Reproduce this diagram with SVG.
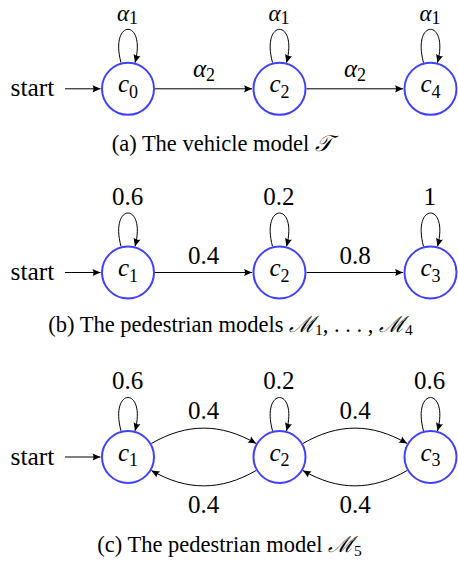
<svg xmlns="http://www.w3.org/2000/svg" width="458" height="563" viewBox="0 0 458 563">
<style>
  .node circle { fill: #ffffff; stroke: #4040ff; stroke-width: 2; }
  .edge { fill: none; stroke: #000000; stroke-width: 1; }
  .lbl { font-family: "Liberation Serif", serif; font-size: 25px; text-anchor: middle; fill: #000000; }
  .top { font-size: 23px; }
  .it { font-family: "Liberation Serif", serif; font-style: italic; }
  .sub { font-family: "Liberation Serif", serif; font-size: 18px; font-style: normal; }
  .start { font-family: "Liberation Serif", serif; font-size: 25.5px; fill: #000000; }
  .cap { font-family: "Liberation Serif", serif; font-size: 22.5px; fill: #000000; }
  .capsub { font-family: "Liberation Serif", serif; font-size: 15.5px; }
  .cal { font-style: italic; }
</style>
<defs>
  <marker id="arr" markerUnits="userSpaceOnUse" markerWidth="12" markerHeight="12" viewBox="-10 -6 12 12" refX="0" refY="0" orient="auto">
    <path d="M0,0 L-8,-3.6 Q-6,0 -8,3.6 Z" fill="#000000"/>
  </marker>
</defs>

<!-- Connectors -->
<g id="connectors">
  <!-- (a) -->
  <path class="edge" marker-end="url(#arr)" d="M65,88.8 L100.5,88.8"/>
  <path class="edge" marker-end="url(#arr)" d="M121.01,62.72 C109.08,18.19 146.92,18.19 134.99,62.72"/>
  <path class="edge" marker-end="url(#arr)" d="M272.51,62.72 C260.58,18.19 298.42,18.19 286.49,62.72"/>
  <path class="edge" marker-end="url(#arr)" d="M423.51,62.72 C411.58,18.19 449.42,18.19 437.49,62.72"/>
  <path class="edge" marker-end="url(#arr)" d="M155,88.8 L252,88.8"/>
  <path class="edge" marker-end="url(#arr)" d="M306.5,88.8 L403,88.8"/>
  <!-- (b) -->
  <path class="edge" marker-end="url(#arr)" d="M65,272.5 L100.5,272.5"/>
  <path class="edge" marker-end="url(#arr)" d="M121.01,246.42 C109.08,201.89 146.92,201.89 134.99,246.42"/>
  <path class="edge" marker-end="url(#arr)" d="M272.51,246.42 C260.58,201.89 298.42,201.89 286.49,246.42"/>
  <path class="edge" marker-end="url(#arr)" d="M423.51,246.42 C411.58,201.89 449.42,201.89 437.49,246.42"/>
  <path class="edge" marker-end="url(#arr)" d="M155,272.5 L252,272.5"/>
  <path class="edge" marker-end="url(#arr)" d="M306.5,272.5 L403,272.5"/>
  <!-- (c) -->
  <path class="edge" marker-end="url(#arr)" d="M65,457 L100.5,457"/>
  <path class="edge" marker-end="url(#arr)" d="M121.01,430.92 C109.08,386.39 146.92,386.39 134.99,430.92"/>
  <path class="edge" marker-end="url(#arr)" d="M272.51,430.92 C260.58,386.39 298.42,386.39 286.49,430.92"/>
  <path class="edge" marker-end="url(#arr)" d="M423.51,430.92 C411.58,386.39 449.42,386.39 437.49,430.92"/>
  <path class="edge" marker-end="url(#arr)" d="M151.38,443.5 C186.88,423 220.62,423 256.12,443.5"/>
  <path class="edge" marker-end="url(#arr)" d="M256.12,470.5 C220.62,491 186.88,491 151.38,470.5"/>
  <path class="edge" marker-end="url(#arr)" d="M302.88,443.5 C338.38,423 371.62,423 407.12,443.5"/>
  <path class="edge" marker-end="url(#arr)" d="M407.12,470.5 C371.62,491 338.38,491 302.88,470.5"/>
</g>

<!-- Connector labels -->
<g id="edge-labels">
  <text class="lbl top" x="127.5" y="20.5"><tspan class="it">α</tspan><tspan class="sub" dy="3">1</tspan></text>
  <text class="lbl top" x="279" y="20.5"><tspan class="it">α</tspan><tspan class="sub" dy="3">1</tspan></text>
  <text class="lbl top" x="430" y="20.5"><tspan class="it">α</tspan><tspan class="sub" dy="3">1</tspan></text>
  <text class="lbl" x="204" y="77"><tspan class="it">α</tspan><tspan class="sub" dy="3.5">2</tspan></text>
  <text class="lbl" x="355" y="77"><tspan class="it">α</tspan><tspan class="sub" dy="3.5">2</tspan></text>

  <text class="lbl" x="127.7" y="205">0.6</text>
  <text class="lbl" x="278.8" y="205">0.2</text>
  <text class="lbl" x="429.7" y="205">1</text>
  <text class="lbl" x="203.5" y="264">0.4</text>
  <text class="lbl" x="355" y="264">0.8</text>

  <text class="lbl" x="127.7" y="389.3">0.6</text>
  <text class="lbl" x="278.8" y="389.3">0.2</text>
  <text class="lbl" x="429.7" y="389.3">0.6</text>
  <text class="lbl" x="203.5" y="419.3">0.4</text>
  <text class="lbl" x="355" y="419.3">0.4</text>
  <text class="lbl" x="203.5" y="512.7">0.4</text>
  <text class="lbl" x="355" y="512.7">0.4</text>
</g>

<!-- Nodes (a) -->
<g id="start-a"><text class="start" x="10.5" y="96.3">start</text></g>
<g id="a-c0" class="node"><circle cx="128" cy="88.8" r="26"/><text class="lbl" x="128" y="92.3"><tspan class="it">c</tspan><tspan class="sub" dy="5.5">0</tspan></text></g>
<g id="a-c2" class="node"><circle cx="279.5" cy="88.8" r="26"/><text class="lbl" x="279.5" y="92.3"><tspan class="it">c</tspan><tspan class="sub" dy="5.5">2</tspan></text></g>
<g id="a-c4" class="node"><circle cx="430.5" cy="88.8" r="26"/><text class="lbl" x="430.5" y="92.3"><tspan class="it">c</tspan><tspan class="sub" dy="5.5">4</tspan></text></g>

<!-- Nodes (b) -->
<g id="start-b"><text class="start" x="10.5" y="280">start</text></g>
<g id="b-c1" class="node"><circle cx="128" cy="272.5" r="26"/><text class="lbl" x="128" y="276"><tspan class="it">c</tspan><tspan class="sub" dy="5.5">1</tspan></text></g>
<g id="b-c2" class="node"><circle cx="279.5" cy="272.5" r="26"/><text class="lbl" x="279.5" y="276"><tspan class="it">c</tspan><tspan class="sub" dy="5.5">2</tspan></text></g>
<g id="b-c3" class="node"><circle cx="430.5" cy="272.5" r="26"/><text class="lbl" x="430.5" y="276"><tspan class="it">c</tspan><tspan class="sub" dy="5.5">3</tspan></text></g>

<!-- Nodes (c) -->
<g id="start-c"><text class="start" x="10.5" y="464.5">start</text></g>
<g id="c-c1" class="node"><circle cx="128" cy="457" r="26"/><text class="lbl" x="128" y="460.5"><tspan class="it">c</tspan><tspan class="sub" dy="5.5">1</tspan></text></g>
<g id="c-c2" class="node"><circle cx="279.5" cy="457" r="26"/><text class="lbl" x="279.5" y="460.5"><tspan class="it">c</tspan><tspan class="sub" dy="5.5">2</tspan></text></g>
<g id="c-c3" class="node"><circle cx="430.5" cy="457" r="26"/><text class="lbl" x="430.5" y="460.5"><tspan class="it">c</tspan><tspan class="sub" dy="5.5">3</tspan></text></g>

<!-- Captions -->
<g id="captions">
  <text class="cap" x="111.7" y="150.5">(a) The vehicle model <tspan class="cal">𝒯</tspan></text>
  <text class="cap" x="48.3" y="331.7">(b) The pedestrian models <tspan class="cal">ℳ</tspan><tspan class="capsub" dy="3.5">1</tspan><tspan dy="-3.5">, . . . , </tspan><tspan class="cal">ℳ</tspan><tspan class="capsub" dy="3.5">4</tspan></text>
  <text class="cap" x="97.3" y="552.3">(c) The pedestrian model <tspan class="cal">ℳ</tspan><tspan class="capsub" dy="3.5">5</tspan></text>
</g>
</svg>
